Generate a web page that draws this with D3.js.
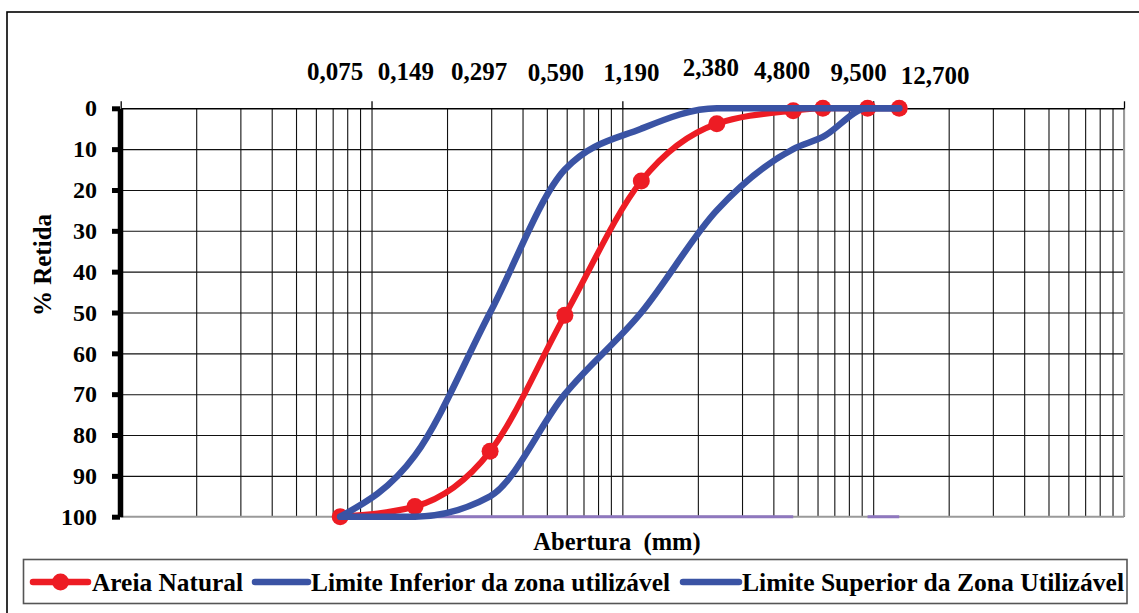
<!DOCTYPE html>
<html>
<head>
<meta charset="utf-8">
<script src="https://cdn.jsdelivr.net/npm/d3@7"></script>
<style>
  html, body { margin: 0; padding: 0; background: #fff; }
  svg { display: block; font-family: "Liberation Serif", "Times New Roman", serif; font-weight: bold; }
</style>
</head>
<body>
<svg id="chart" width="1139" height="613"></svg>
<script>
// ---- data ----
const sieves = [0.075, 0.149, 0.297, 0.590, 1.190, 2.380, 4.800, 6.300, 9.500, 12.700];
const topLabels = ["0,075", "0,149", "0,297", "0,590", "1,190", "2,380", "4,800", "9,500", "12,700"];
const topLabelValues = [0.075, 0.149, 0.297, 0.590, 1.190, 2.380, 4.800, 9.500, 12.700];
const areiaNatural = [100, 97.5, 84, 50.7, 17.8, 3.8, 0.6, 0, 0, 0];
const limiteInferior = [100, 85, 50, 15, 5, 0, 0, 0, 0, 0];
const limiteSuperior = [100, 100, 95, 70, 50, 25, 10, 7, 0, 0];
const baseSeries = [100, 100, 100, 100, 100, 100, 100, null, 100, 100];
const yTicks = [0, 10, 20, 30, 40, 50, 60, 70, 80, 90, 100];
const seriesNames = ["Areia Natural", "Limite Inferior da zona utilizável", "Limite Superior da Zona Utilizável"];
const xTitle = "Abertura  (mm)";
const yTitle = "% Retida";

// ---- layout ----
const svg = d3.select("#chart");
const L = 120.7, R = 1124, T = 108.3, B = 516.7;
const x = d3.scaleLog().domain([0.01, 100]).range([L, R]);
const y = d3.scaleLinear().domain([0, 100]).range([T, B]);
const RED = "#ED1C24", BLUE = "#3A53A4", PURPLE = "#8E77BE";

// outer frame
svg.append("rect").attr("x", 7).attr("y", 12).attr("width", 1150).attr("height", 620)
  .attr("fill", "none").attr("stroke", "#000").attr("stroke-width", 1.6);

// vertical grid lines (log minor ticks)
const gridX = d3.axisBottom(x).tickValues(x.ticks()).tickSize(B - T).tickFormat("");
svg.append("g").attr("transform", `translate(0,${T})`).call(gridX)
  .call(g => g.select(".domain").remove())
  .call(g => g.selectAll("line").attr("stroke", "#111").attr("stroke-width", 1.1));

// horizontal grid lines
const gridY = d3.axisRight(y).tickValues(yTicks.filter(v => v > 0 && v < 100)).tickSize(R - L).tickFormat("");
svg.append("g").attr("transform", `translate(${L},0)`).call(gridY)
  .call(g => g.select(".domain").remove())
  .call(g => g.selectAll("line").attr("stroke", "#111").attr("stroke-width", 1.1));

// plot border bottom/right (gray)
svg.append("line").attr("x1", L).attr("x2", R).attr("y1", B).attr("y2", B)
  .attr("stroke", "#9a9a9a").attr("stroke-width", 2);
svg.append("line").attr("x1", R).attr("x2", R).attr("y1", T).attr("y2", B)
  .attr("stroke", "#9a9a9a").attr("stroke-width", 2);

// top x axis (decade ticks)
const xAxis = d3.axisTop(x).tickValues([0.01, 0.1, 1, 10, 100]).tickSize(7).tickSizeOuter(0).tickFormat("");
svg.append("g").attr("transform", `translate(0,${T})`).call(xAxis)
  .call(g => g.select(".domain").attr("stroke", "#000").attr("stroke-width", 1.6))
  .call(g => g.selectAll("line").attr("stroke", "#000").attr("stroke-width", 1.3));

// top labels (text boxes)
const labelDx = [-5, -9, -11, -9, -10, -6, -11, -9, 36];
const labelBase = [80, 80, 80, 81, 81, 75.5, 78.5, 80.5, 83.5];
svg.append("g").selectAll("text").data(topLabels).join("text")
  .attr("x", (d, i) => x(topLabelValues[i]) + labelDx[i])
  .attr("y", (d, i) => labelBase[i])
  .attr("text-anchor", "middle")
  .attr("font-size", 25)
  .attr("fill", "#000")
  .text(d => d);

// series
const pts = vals => sieves.map((s, i) => ({ x: s, y: vals[i] }));
const line = d3.line().defined(d => d.y !== null).x(d => x(d.x)).y(d => y(d.y)).curve(d3.curveMonotoneX);
const straight = d3.line().defined(d => d.y !== null).x(d => x(d.x)).y(d => y(d.y));

svg.append("path").attr("d", straight(pts(baseSeries))).attr("fill", "none")
  .attr("stroke", PURPLE).attr("stroke-width", 3);

svg.append("path").attr("d", line(pts(areiaNatural))).attr("fill", "none")
  .attr("stroke", RED).attr("stroke-width", 6).attr("stroke-linejoin", "round").attr("stroke-linecap", "round");
svg.append("g").selectAll("circle").data(pts(areiaNatural)).join("circle")
  .attr("cx", d => x(d.x)).attr("cy", d => y(d.y)).attr("r", 8.5).attr("fill", RED);

svg.append("path").attr("d", line(pts(limiteInferior))).attr("fill", "none")
  .attr("stroke", BLUE).attr("stroke-width", 6.5).attr("stroke-linejoin", "round").attr("stroke-linecap", "round");
svg.append("path").attr("d", line(pts(limiteSuperior))).attr("fill", "none")
  .attr("stroke", BLUE).attr("stroke-width", 6.5).attr("stroke-linejoin", "round").attr("stroke-linecap", "round");

// y axis (thick)
const yAxis = d3.axisLeft(y).tickValues(yTicks).tickSize(8).tickSizeOuter(0).tickPadding(15);
svg.append("g").attr("transform", `translate(${L - 0.7},0)`).call(yAxis)
  .call(g => g.select(".domain").attr("stroke", "#000").attr("stroke-width", 5.5))
  .call(g => g.selectAll(".tick line").attr("stroke", "#000").attr("stroke-width", 5))
  .call(g => g.selectAll(".tick text").attr("font-size", 24).attr("font-family", "Liberation Serif, serif")
    .attr("font-weight", "bold").attr("fill", "#000"));

// axis titles
svg.append("text").attr("x", 617).attr("y", 550).attr("text-anchor", "middle")
  .attr("font-size", 24.5).attr("fill", "#000").style("white-space", "pre").text(xTitle);
svg.append("text").attr("transform", "translate(51,265) rotate(-90)").attr("text-anchor", "middle")
  .attr("font-size", 25).attr("fill", "#000").text(yTitle);

// legend
const lg = svg.append("g");
lg.append("rect").attr("x", 23.5).attr("y", 559.5).attr("width", 1103.5).attr("height", 44)
  .attr("fill", "#fff").attr("stroke", "#555").attr("stroke-width", 1.6);
const legendItems = [
  { x1: 33, x2: 88, tx: 92, w: 151, color: RED, marker: true },
  { x1: 255, x2: 308, tx: 311, w: 359, color: BLUE, marker: false },
  { x1: 683, x2: 739, tx: 742, w: 382, color: BLUE, marker: false }
];
const ly = 582;
legendItems.forEach((it, i) => {
  lg.append("line").attr("x1", it.x1).attr("x2", it.x2).attr("y1", ly).attr("y2", ly)
    .attr("stroke", it.color).attr("stroke-width", 6.5).attr("stroke-linecap", "round");
  if (it.marker) lg.append("circle").attr("cx", (it.x1 + it.x2) / 2).attr("cy", ly).attr("r", 8.5).attr("fill", it.color);
  lg.append("text").attr("x", it.tx).attr("y", ly + 9).attr("font-size", 25).attr("fill", "#000")
    .attr("textLength", it.w).attr("lengthAdjust", "spacingAndGlyphs").text(seriesNames[i]);
});
</script>
</body>
</html>
